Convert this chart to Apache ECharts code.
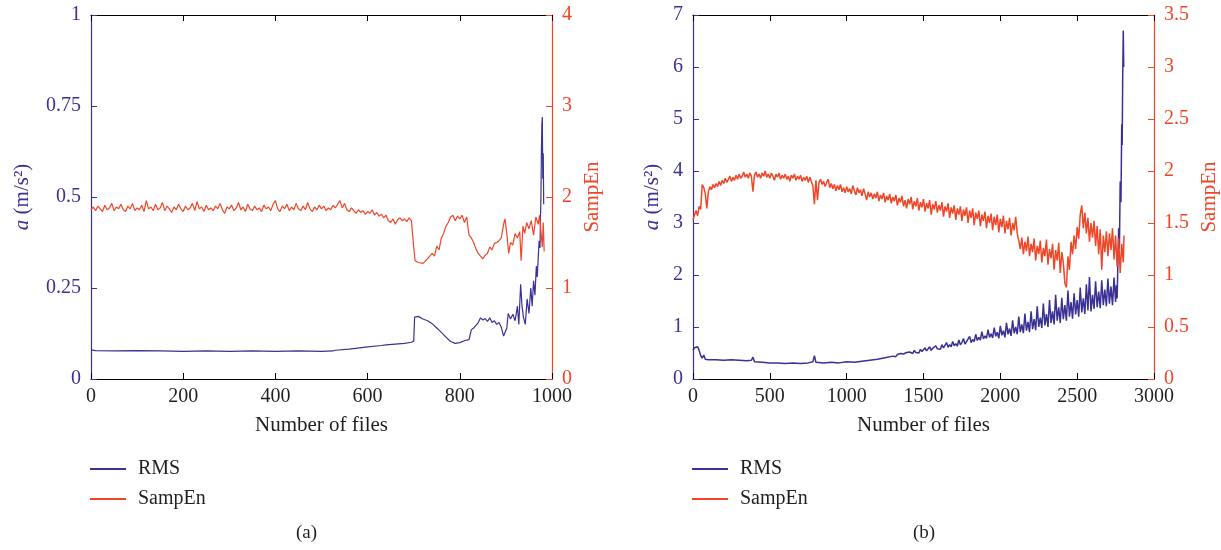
<!DOCTYPE html>
<html>
<head>
<meta charset="utf-8">
<script src="https://cdn.jsdelivr.net/npm/echarts@6/dist/echarts.min.js"></script>
<style>html,body{margin:0;padding:0;background:#fff}#c{width:1221px;height:550px}</style>
</head>
<body>
<div id="c"></div>
<script>
// ---- data ----
const rmsA = [[0,0.080],[10,0.078],[50,0.077],[100,0.078],[150,0.077],[200,0.076],[250,0.077],[300,0.076],[350,0.077],[400,0.076],[450,0.077],[500,0.076],[525,0.077],[530,0.079],[560,0.082],[600,0.088],[630,0.092],[640,0.094],[660,0.096],[680,0.098],[695,0.101],[700,0.104],[702,0.170],[710,0.172],[720,0.165],[730,0.160],[740,0.152],[750,0.140],[760,0.128],[770,0.115],[780,0.103],[790,0.098],[800,0.100],[810,0.105],[820,0.108],[825,0.135],[830,0.140],[840,0.155],[845,0.168],[850,0.162],[855,0.166],[860,0.158],[865,0.168],[870,0.155],[875,0.160],[880,0.150],[885,0.155],[890,0.142],[895,0.118],[898,0.115],[902,0.140],[905,0.180],[910,0.165],[915,0.178],[920,0.160],[925,0.200],[928,0.150],[932,0.260],[935,0.200],[938,0.170],[942,0.150],[946,0.220],[950,0.180],[954,0.250],[957,0.200],[960,0.270],[963,0.230],[966,0.310],[968,0.280],[970,0.330],[972,0.380],[974,0.360],[975,0.440],[976,0.500],[977,0.620],[978,0.700],[979,0.720],[980,0.550],[981,0.620],[982,0.480]];
const sampEnA = [[0,1.86],[5,1.89],[10,1.85],[15,1.90],[20,1.87],[25,1.84],[30,1.91],[35,1.86],[40,1.88],[45,1.93],[50,1.85],[55,1.89],[60,1.87],[65,1.92],[70,1.86],[75,1.84],[80,1.90],[85,1.87],[90,1.93],[95,1.85],
[100,1.88],[105,1.86],[110,1.91],[115,1.84],[120,1.96],[125,1.87],[130,1.89],[135,1.85],[140,1.92],[145,1.86],[150,1.88],[155,1.94],[160,1.85],[165,1.90],[170,1.87],[175,1.83],[180,1.89],[185,1.86],[190,1.92],[195,1.87],
[200,1.84],[205,1.90],[210,1.86],[215,1.88],[220,1.93],[225,1.85],[230,1.95],[235,1.87],[240,1.89],[245,1.84],[250,1.91],[255,1.86],[260,1.88],[265,1.85],[270,1.90],[275,1.87],[280,1.93],[285,1.86],[290,1.82],[295,1.89],
[300,1.87],[305,1.91],[310,1.85],[315,1.88],[320,1.94],[325,1.86],[330,1.89],[335,1.84],[340,1.92],[345,1.87],[350,1.85],[355,1.90],[360,1.86],[365,1.88],[370,1.84],[375,1.91],[380,1.87],[385,1.89],[390,1.85],[395,1.92],
[400,1.96],[405,1.87],[410,1.84],[415,1.90],[420,1.87],[425,1.92],[430,1.85],[435,1.89],[440,1.86],[445,1.93],[450,1.87],[455,1.85],[460,1.90],[465,1.86],[470,1.94],[475,1.87],[480,1.84],[485,1.89],[490,1.86],[495,1.91],
[500,1.87],[505,1.90],[510,1.85],[515,1.88],[520,1.86],[525,1.91],[530,1.88],[535,1.92],[540,1.96],[545,1.88],[550,1.93],[555,1.86],[560,1.84],[565,1.88],[570,1.85],[575,1.82],[580,1.86],[585,1.83],[590,1.85],[595,1.81],
[600,1.84],[605,1.82],[610,1.86],[615,1.80],[620,1.83],[625,1.79],[630,1.81],[635,1.77],[640,1.80],[645,1.74],[650,1.72],[655,1.76],[660,1.70],[665,1.75],[670,1.77],[675,1.74],[680,1.76],[685,1.73],[690,1.77],[695,1.74],[698,1.72],
[700,1.45],[703,1.30],[710,1.28],[720,1.27],[730,1.32],[740,1.38],[745,1.35],[750,1.46],[755,1.42],[760,1.55],[765,1.60],[770,1.68],[775,1.72],[780,1.78],[785,1.80],[790,1.74],[795,1.79],[800,1.76],[805,1.80],[810,1.72],[815,1.78],[820,1.58],[825,1.55],[830,1.50],[835,1.43],[840,1.38],[845,1.35],[850,1.32],[855,1.36],[860,1.38],[865,1.45],[870,1.42],[875,1.49],[880,1.50],[885,1.52],[890,1.55],[895,1.70],[898,1.76],[902,1.60],[906,1.38],[910,1.50],[915,1.47],[920,1.60],[925,1.55],[930,1.62],[933,1.30],[937,1.68],[941,1.60],[945,1.72],[950,1.65],[955,1.74],[960,1.58],[965,1.78],[970,1.70],[973,1.80],[976,1.62],[979,1.45],[981,1.72],[983,1.40]];
const rmsB = [[0,0.55],[10,0.60],[20,0.58],[30,0.62],[40,0.55],[50,0.45],[60,0.40],[70,0.46],[80,0.38],[100,0.37],[150,0.37],[200,0.36],[250,0.37],[300,0.36],[350,0.35],[380,0.36],[390,0.42],[400,0.33],[450,0.32],[500,0.31],[550,0.31],[600,0.30],[650,0.31],[700,0.30],[750,0.31],[780,0.33],[790,0.45],[800,0.32],[850,0.31],[900,0.32],[950,0.31],[1000,0.33],[1050,0.32],[1100,0.34],[1150,0.36],[1200,0.38],[1250,0.41],
[1300,0.44],[1310,0.46],[1320,0.43],[1330,0.47],[1340,0.45],[1350,0.49],[1360,0.46],[1370,0.48],[1380,0.47],[1390,0.51],
[1400,0.48],[1410,0.52],[1420,0.50],[1430,0.49],[1440,0.55],[1450,0.51],[1460,0.53],[1470,0.50],[1480,0.57],[1490,0.53],
[1500,0.55],[1510,0.60],[1520,0.54],[1530,0.57],[1540,0.62],[1550,0.55],[1560,0.59],[1570,0.56],[1580,0.64],[1590,0.58],
[1600,0.61],[1610,0.57],[1620,0.66],[1630,0.60],[1640,0.63],[1650,0.70],[1660,0.61],[1670,0.66],[1680,0.62],[1690,0.72],
[1700,0.64],[1710,0.68],[1720,0.63],[1730,0.75],[1740,0.66],[1750,0.70],[1760,0.78],[1770,0.67],[1780,0.72],[1790,0.69],
[1800,0.82],[1810,0.70],[1820,0.76],[1830,0.72],[1840,0.86],[1850,0.74],[1860,0.80],[1870,0.75],[1880,0.91],[1890,0.77],
[1900,0.83],[1910,0.78],[1920,0.95],[1930,0.80],[1940,0.87],[1950,0.79],[1960,0.99],[1970,0.82],[1980,0.90],[1990,0.78],
[2000,1.02],[2010,0.84],[2020,0.93],[2030,0.80],[2040,1.08],[2050,0.86],[2060,0.97],[2070,0.83],[2080,1.13],[2090,0.88],
[2100,1.00],[2110,0.86],[2120,1.20],[2130,0.90],[2140,1.05],[2150,0.88],[2160,1.26],[2170,0.93],[2180,1.10],[2190,0.90],
[2200,1.30],[2210,0.96],[2220,1.15],[2230,0.94],[2240,1.40],[2250,1.00],[2260,1.18],[2270,0.98],[2280,1.45],[2290,1.03],
[2300,1.25],[2310,1.00],[2320,1.52],[2330,1.08],[2340,1.30],[2350,1.05],[2360,1.62],[2370,1.12],[2380,1.38],[2390,1.08],
[2400,1.56],[2410,1.15],[2420,1.42],[2430,1.12],[2440,1.70],[2450,1.20],[2460,1.48],[2470,1.16],[2480,1.65],[2490,1.24],
[2500,1.52],[2510,1.20],[2520,1.76],[2530,1.28],[2540,1.55],[2550,1.25],[2560,1.82],[2570,1.32],[2580,1.96],[2590,1.30],
[2600,1.62],[2610,1.35],[2620,1.88],[2630,1.38],[2640,1.68],[2650,1.36],[2660,1.90],[2670,1.42],[2680,1.72],[2690,1.40],
[2700,1.93],[2710,1.45],[2720,1.78],[2730,1.42],[2740,1.95],[2750,1.48],[2755,1.80],[2760,1.55],
[2770,2.90],[2775,2.50],[2780,3.80],[2785,3.40],[2790,4.90],[2793,4.50],[2796,5.70],[2800,6.70],[2803,6.00]];
const sampEnB = [[0,1.53],[10,1.58],[20,1.62],[30,1.57],[40,1.66],[50,1.63],[60,1.87],[70,1.84],[80,1.78],[90,1.64],
[100,1.80],[110,1.85],[120,1.82],[130,1.87],[140,1.84],[150,1.88],[160,1.85],[170,1.90],[180,1.86],[190,1.91],
[200,1.88],[210,1.93],[220,1.89],[230,1.92],[240,1.95],[250,1.90],[260,1.94],[270,1.91],[280,1.96],[290,1.92],
[300,1.97],[310,1.93],[320,1.95],[330,1.99],[340,1.94],[350,1.97],[360,1.93],[370,1.98],[380,1.95],[390,1.80],
[400,1.96],[410,1.99],[420,1.94],[430,1.97],[440,1.93],[450,1.98],[460,1.95],[470,2.00],[480,1.94],[490,1.97],
[500,1.93],[510,1.98],[520,1.95],[530,1.91],[540,1.97],[550,1.94],[560,1.98],[570,1.92],[580,1.96],[590,1.93],
[600,1.97],[610,1.92],[620,1.95],[630,1.90],[640,1.96],[650,1.93],[660,1.97],[670,1.91],[680,1.95],[690,1.92],
[700,1.96],[710,1.90],[720,1.94],[730,1.91],[740,1.95],[750,1.89],[760,1.94],[770,1.90],[780,1.86],[790,1.68],
[800,1.91],[810,1.72],[820,1.89],[830,1.92],[840,1.87],[850,1.90],[860,1.85],[870,1.89],[880,1.92],[890,1.84],
[900,1.88],[910,1.83],[920,1.87],[930,1.81],[940,1.86],[950,1.82],[960,1.87],[970,1.80],[980,1.84],[990,1.79],
[1000,1.85],[1010,1.80],[1020,1.83],[1030,1.78],[1040,1.86],[1050,1.81],[1060,1.77],[1070,1.84],[1080,1.79],[1090,1.82],
[1100,1.76],[1110,1.83],[1120,1.78],[1130,1.72],[1140,1.80],[1150,1.75],[1160,1.79],[1170,1.73],[1180,1.78],[1190,1.74],
[1200,1.80],[1210,1.71],[1220,1.77],[1230,1.73],[1240,1.79],[1250,1.70],[1260,1.76],[1270,1.72],[1280,1.78],[1290,1.69],
[1300,1.75],[1310,1.71],[1320,1.77],[1330,1.67],[1340,1.74],[1350,1.70],[1360,1.76],[1370,1.66],[1380,1.72],[1390,1.64],
[1400,1.73],[1410,1.68],[1420,1.75],[1430,1.63],[1440,1.71],[1450,1.66],[1460,1.74],[1470,1.62],[1480,1.70],[1490,1.65],
[1500,1.73],[1510,1.61],[1520,1.69],[1530,1.64],[1540,1.72],[1550,1.58],[1560,1.68],[1570,1.63],[1580,1.71],[1590,1.60],
[1600,1.67],[1610,1.62],[1620,1.70],[1630,1.56],[1640,1.66],[1650,1.61],[1660,1.69],[1670,1.55],[1680,1.65],[1690,1.59],
[1700,1.67],[1710,1.53],[1720,1.64],[1730,1.58],[1740,1.66],[1750,1.52],[1760,1.63],[1770,1.57],[1780,1.65],[1790,1.50],
[1800,1.62],[1810,1.55],[1820,1.64],[1830,1.48],[1840,1.60],[1850,1.54],[1860,1.62],[1870,1.47],[1880,1.58],[1890,1.52],
[1900,1.61],[1910,1.45],[1920,1.57],[1930,1.50],[1940,1.59],[1950,1.43],[1960,1.56],[1970,1.48],[1980,1.58],[1990,1.41],
[2000,1.54],[2010,1.46],[2020,1.57],[2030,1.40],[2040,1.52],[2050,1.44],[2060,1.55],[2070,1.38],[2080,1.50],[2090,1.43],
[2100,1.56],[2110,1.40],[2120,1.33],[2130,1.25],[2140,1.36],[2150,1.20],[2160,1.32],[2170,1.23],[2180,1.37],[2190,1.18],
[2200,1.30],[2210,1.22],[2220,1.35],[2230,1.14],[2240,1.28],[2250,1.20],[2260,1.33],[2270,1.12],[2280,1.26],[2290,1.18],
[2300,1.34],[2310,1.10],[2320,1.25],[2330,1.16],[2340,1.30],[2350,1.05],[2360,1.24],[2370,1.14],[2380,1.31],[2390,1.02],
[2400,1.22],[2410,1.12],[2420,0.92],[2430,0.88],[2440,1.18],[2450,1.05],[2460,1.32],[2470,1.20],[2480,1.38],[2490,1.25],
[2500,1.46],[2510,1.35],[2520,1.58],[2530,1.67],[2540,1.45],[2550,1.60],[2560,1.40],[2570,1.55],[2580,1.32],[2590,1.50],
[2600,1.36],[2610,1.52],[2620,1.28],[2630,1.47],[2640,1.20],[2650,1.44],[2660,1.05],[2670,1.38],[2680,1.22],[2690,1.42],
[2700,1.18],[2710,1.40],[2720,1.24],[2730,1.45],[2740,1.15],[2750,1.38],[2760,1.08],[2770,1.35],[2780,1.02],[2790,1.30],[2800,1.12],[2805,1.38]];

const xRangeA = [0, 1000, 200];
const yLeftA = [0, 1, 0.25];
const yRightA = [0, 4, 1];
const xRangeB = [0, 3000, 500];
const yLeftB = [0, 7, 1];
const yRightB = [0, 3.5, 0.5];
const seriesNames = ['RMS', 'SampEn'];
const captions = ['(a)', '(b)'];
const xName = 'Number of files';

// ---- style ----
const FONT = 'Liberation Serif';
const BLUE = '#3a3194';
const RED = '#ef4628';
const TXT = '#231f20';
const plain = v => String(v);

function xAxes(gi, r) {
  return [{
    type: 'value', gridIndex: gi, min: r[0], max: r[1], interval: r[2], position: 'bottom',
    name: xName, nameLocation: 'middle', nameGap: 36,
    nameTextStyle: {fontFamily: FONT, fontSize: 21, color: TXT},
    axisLine: {onZero: false, lineStyle: {color: '#000', width: 1}},
    axisTick: {inside: true, length: 6, lineStyle: {color: '#000'}},
    axisLabel: {fontFamily: FONT, fontSize: 20, color: TXT, margin: 8, formatter: plain},
    splitLine: {show: false}
  }, {
    type: 'value', gridIndex: gi, min: r[0], max: r[1], interval: r[2], position: 'top',
    axisLine: {onZero: false, lineStyle: {color: '#000', width: 1}},
    axisTick: {inside: true, length: 6, lineStyle: {color: '#000'}},
    axisLabel: {show: false}, splitLine: {show: false}
  }];
}
function yAxes(gi, l, r, gapL, gapR) {
  return [{
    type: 'value', gridIndex: gi, min: l[0], max: l[1], interval: l[2], position: 'left',
    name: '{i|a} (m/s²)', nameLocation: 'middle', nameGap: gapL, nameRotate: 90,
    nameTextStyle: {fontFamily: FONT, fontSize: 21, color: BLUE, rich: {i: {fontFamily: FONT, fontSize: 21, fontStyle: 'italic', color: BLUE}}},
    axisLine: {show: true, onZero: false, lineStyle: {color: BLUE, width: 1.2}},
    axisTick: {inside: true, length: 6, lineStyle: {color: BLUE}},
    axisLabel: {fontFamily: FONT, fontSize: 20, color: BLUE, margin: 10, formatter: plain},
    splitLine: {show: false}
  }, {
    type: 'value', gridIndex: gi, min: r[0], max: r[1], interval: r[2], position: 'right',
    name: 'SampEn', nameLocation: 'middle', nameGap: gapR, nameRotate: 90,
    nameTextStyle: {fontFamily: FONT, fontSize: 21, color: RED},
    axisLine: {show: true, onZero: false, lineStyle: {color: RED, width: 1.2}},
    axisTick: {inside: true, length: 6, lineStyle: {color: RED}},
    axisLabel: {fontFamily: FONT, fontSize: 20, color: RED, margin: 10, formatter: plain},
    splitLine: {show: false}
  }];
}
function line(name, data, xi, yi, color, w) {
  return {type: 'line', name: name, data: data, xAxisIndex: xi, yAxisIndex: yi,
    showSymbol: false, symbol: 'none', sampling: 'none', animation: false,
    lineStyle: {color: color, width: w}, itemStyle: {color: color}};
}
function legend(left) {
  return {orient: 'vertical', left: left, top: 459, padding: 0, itemWidth: 36, itemHeight: 2, itemGap: 10,
    icon: 'rect', data: seriesNames, selectedMode: false,
    textStyle: {fontFamily: FONT, fontSize: 20, color: TXT, padding: [0, 0, 0, 7]}};
}

const chart = echarts.init(document.getElementById('c'), null, {renderer: 'canvas'});
chart.setOption({
  animation: false,
  backgroundColor: '#fff',
  grid: [
    {left: 91, top: 15, width: 461, height: 364},
    {left: 693, top: 15, width: 462, height: 364}
  ],
  xAxis: [...xAxes(0, xRangeA), ...xAxes(1, xRangeB)],
  yAxis: [...yAxes(0, yLeftA, yRightA, 58, 30), ...yAxes(1, yLeftB, yRightB, 30, 45)],
  legend: [legend(90), legend(692)],
  title: [
    {text: captions[0], left: 296, top: 524, padding: 0, textStyle: {fontFamily: FONT, fontSize: 19, fontWeight: 'normal', color: TXT}},
    {text: captions[1], left: 913, top: 524, padding: 0, textStyle: {fontFamily: FONT, fontSize: 19, fontWeight: 'normal', color: TXT}}
  ],
  series: [
    line(seriesNames[0], rmsA, 0, 0, BLUE, 1.2),
    line(seriesNames[1], sampEnA, 0, 1, RED, 1.2),
    line(seriesNames[0], rmsB, 2, 2, BLUE, 1.5),
    line(seriesNames[1], sampEnB, 2, 3, RED, 1.5)
  ]
});
</script>
</body>
</html>
